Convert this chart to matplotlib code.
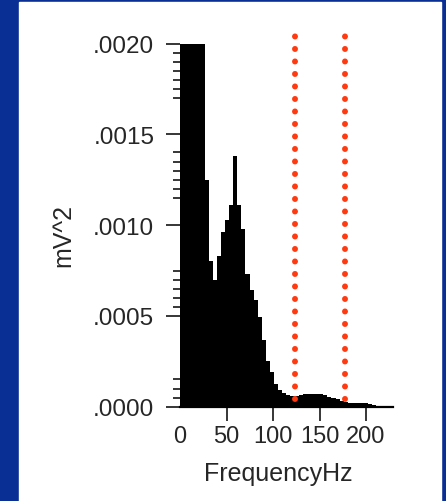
import numpy as np
import matplotlib
matplotlib.use("Agg")
import matplotlib.pyplot as plt
from matplotlib.patches import Rectangle
from matplotlib.ticker import FixedLocator, FuncFormatter

plt.rcParams["lines.scale_dashes"] = False

# power spectrum, one value per frequency bin (mV^2)
bin_width_hz = 4.4
power = [0.0020, 0.0020, 0.0020, 0.0020, 0.0020, 0.0020,
         0.00125, 0.00080, 0.00070, 0.00083, 0.00096, 0.00103,
         0.00111, 0.00138, 0.00111, 0.00098, 0.00073, 0.00064,
         0.000586, 0.000494, 0.000365, 0.000254, 0.00019, 0.000125,
         0.00009, 0.000075, 0.000065, 0.00006, 0.00006, 0.000065,
         0.00007, 0.000072, 0.000072, 0.00007, 0.000068, 0.000062,
         0.000055, 0.000047, 0.00004, 0.000032, 0.000027, 0.000022,
         0.00002, 0.00002, 0.00002, 0.000018, 0.000015, 0.000008,
         0.000006, 0.000005, 0.000005, 0.000004]

# frequency band markers (Hz)
band_edges = [124, 177]

x_ticks = [0, 50, 100, 150, 200]
y_ticks = [0.0, 0.0005, 0.0010, 0.0015, 0.0020]
y_minor = [0.00195, 0.0019, 0.00185, 0.0018, 0.00175, 0.0017,
           0.0014, 0.00135, 0.0013, 0.00125, 0.0012, 0.00115,
           0.00075, 0.0007, 0.00065, 0.0006, 0.00055,
           0.00015, 0.0001, 0.00005]

W, H = 446, 502
fig = plt.figure(figsize=(W / 100, H / 100), dpi=100, facecolor="#0a2f94")
fig.patches.append(Rectangle((19 / W, 0), (441 - 19) / W, (H - 3) / H,
                             transform=fig.transFigure, color="white", zorder=-10))

ax = fig.add_axes([180 / W, (H - 407.7) / H, (393 - 180) / W, (407.7 - 44.5) / H])
ax.patch.set_alpha(0)

edges = np.arange(len(power) + 1) * bin_width_hz
ax.stairs(power, edges, fill=True, color="black", zorder=2)

# big round red dots, ~12.5 px (9 pt) apart
for f in band_edges:
    ax.plot([f, f], [0.00004, 0.00209], color="#ff3a10", linewidth=4.3,
            linestyle=(0, (0.05, 8.95)), dash_capstyle="round",
            clip_on=False, zorder=3)

ax.set_xlim(0, 229)
ax.set_ylim(0, 0.0020)

for s in ["top", "right", "left"]:
    ax.spines[s].set_visible(False)
ax.spines["bottom"].set_linewidth(1.6)
ax.spines["bottom"].set_zorder(4)

font = "Liberation Sans"
txt = "#262626"

ax.xaxis.set_major_locator(FixedLocator(x_ticks))
ax.yaxis.set_major_locator(FixedLocator(y_ticks))
ax.yaxis.set_minor_locator(FixedLocator(y_minor))
ax.yaxis.set_major_formatter(FuncFormatter(lambda v, p: f"{v:.4f}".lstrip("0")))

ax.tick_params(axis="y", which="major", length=10, width=1.1, pad=8.5,
               labelsize=17.5, labelcolor=txt)
ax.tick_params(axis="y", which="minor", length=5, width=1.1)
ax.tick_params(axis="x", which="major", length=10, width=1.1, pad=3,
               labelsize=17, labelcolor=txt)
ax.xaxis.get_major_ticks()[0].tick1line.set_visible(False)
for lab in ax.get_xticklabels() + ax.get_yticklabels():
    lab.set_fontfamily(font)

ax.set_xlabel("FrequencyHz", fontsize=18, family=font, color=txt, va="top")
ax.xaxis.set_label_coords(0.46, -0.149)
ax.set_ylabel("mV^2", fontsize=18, family=font, color=txt)
ax.yaxis.set_label_coords(-0.49, 0.475)

fig.savefig("out.png", dpi=100, facecolor=fig.get_facecolor())
